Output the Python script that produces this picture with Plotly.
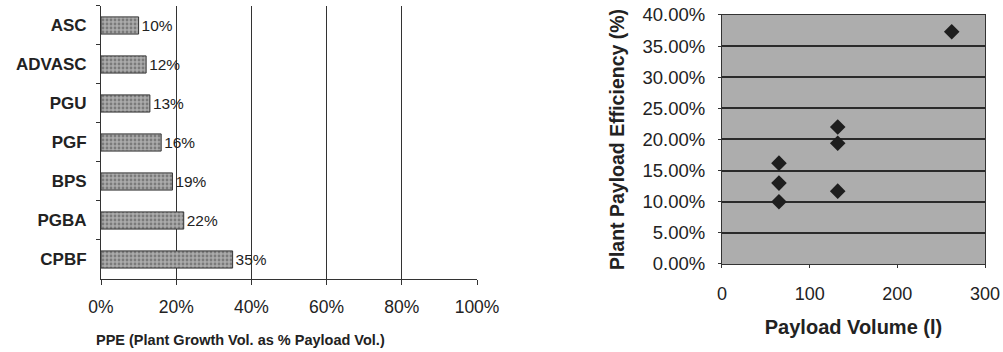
import plotly.graph_objects as go

# left chart: plant growth volume as % of payload volume
systems = ["ASC", "ADVASC", "PGU", "PGF", "BPS", "PGBA", "CPBF"]
ppe = [10, 12, 13, 16, 19, 22, 35]
ppe_labels = ["10%", "12%", "13%", "16%", "19%", "22%", "35%"]

# right chart: payload volume vs plant payload efficiency
payload_vol = [65, 65, 65, 132, 132, 132, 262]
payload_eff = [0.162, 0.130, 0.100, 0.220, 0.194, 0.117, 0.373]

FONT = "Liberation Sans, Arial, sans-serif"

fig = go.Figure()

fig.add_bar(
    x=ppe,
    y=systems,
    orientation="h",
    width=0.44,
    text=ppe_labels,
    textposition="outside",
    textfont=dict(family=FONT, size=18, color="#222"),
    cliponaxis=False,
    marker=dict(
        color="#ababab",
        line=dict(color="#333", width=1),
        pattern=dict(shape=".", fgcolor="#4a4a4a", size=4, solidity=0.4),
    ),
    xaxis="x",
    yaxis="y",
    showlegend=False,
)

fig.add_scatter(
    x=payload_vol,
    y=payload_eff,
    mode="markers",
    marker=dict(symbol="diamond", size=12, color="#1e1e1e"),
    xaxis="x2",
    yaxis="y2",
    showlegend=False,
)

fig.update_layout(
    width=1003,
    height=352,
    margin=dict(l=0, r=0, t=0, b=0),
    paper_bgcolor="white",
    plot_bgcolor="white",
    font=dict(family=FONT, size=17, color="#222"),
    xaxis=dict(
        domain=[0.1007, 0.4756],
        range=[0, 100],
        tickvals=[0, 20, 40, 60, 80, 100],
        ticktext=["0%", "20%", "40%", "60%", "80%", "100%"],
        ticks="outside",
        ticklen=5,
        tickcolor="#333",
        ticklabelstandoff=7,
        showline=True,
        linecolor="#333",
        linewidth=1,
        showgrid=True,
        gridcolor="#333",
        gridwidth=1,
        zeroline=False,
        automargin=False,
        tickfont=dict(size=17.5),
        anchor="y",
    ),
    yaxis=dict(
        domain=[0.2074, 0.983],
        autorange="reversed",
        showline=True,
        linecolor="#333",
        linewidth=1,
        ticks="outside",
        tickson="boundaries",
        ticklen=4,
        tickcolor="#333",
        ticklabelstandoff=10,
        showgrid=False,
        automargin=False,
        tickfont=dict(size=17, color="#222"),
        tickprefix="<b>",
        ticksuffix="</b>",
        anchor="x",
    ),
    xaxis2=dict(
        domain=[0.7198, 0.9821],
        range=[0, 300],
        tickvals=[0, 100, 200, 300],
        ticks="outside",
        ticklen=3,
        tickcolor="#333",
        ticklabelstandoff=10,
        showline=True,
        linecolor="#333",
        mirror=True,
        showgrid=False,
        zeroline=False,
        automargin=False,
        tickfont=dict(size=18),
        title=dict(text="<b>Payload Volume (l)</b>", font=dict(size=20), standoff=17),
        anchor="y2",
    ),
    yaxis2=dict(
        domain=[0.25, 0.9574],
        range=[0, 0.4],
        tickvals=[0, 0.05, 0.1, 0.15, 0.2, 0.25, 0.3, 0.35, 0.4],
        tickformat=".2%",
        showline=True,
        linecolor="#333",
        mirror=True,
        ticks="outside",
        ticklen=3,
        tickcolor="#333",
        ticklabelstandoff=9,
        showgrid=True,
        gridcolor="#2a2a2a",
        gridwidth=1.5,
        zeroline=False,
        automargin=False,
        tickfont=dict(size=18.5),
        title=dict(text="<b>Plant Payload Efficiency (%)</b>", font=dict(size=19.5), standoff=12),
        anchor="x2",
    ),
)

# left x title sits off-centre in the original, so place it by hand
fig.add_annotation(
    text="<b>PPE (Plant Growth Vol. as % Payload Vol.)</b>",
    xref="paper",
    yref="paper",
    x=0.2393,
    y=0.034,
    xanchor="center",
    yanchor="middle",
    showarrow=False,
    font=dict(size=14.5),
)

# shaded plot area for the scatter panel
fig.add_shape(
    type="rect",
    xref="x2 domain",
    yref="y2 domain",
    x0=0,
    x1=1,
    y0=0,
    y1=1,
    fillcolor="#adadad",
    line=dict(width=0),
    layer="below",
)

# drop the browser's default body margin so the figure sits at the page corner
fig.write_html(
    "out.html",
    config={"displayModeBar": False},
    post_script="document.body.style.margin = '0';",
)
